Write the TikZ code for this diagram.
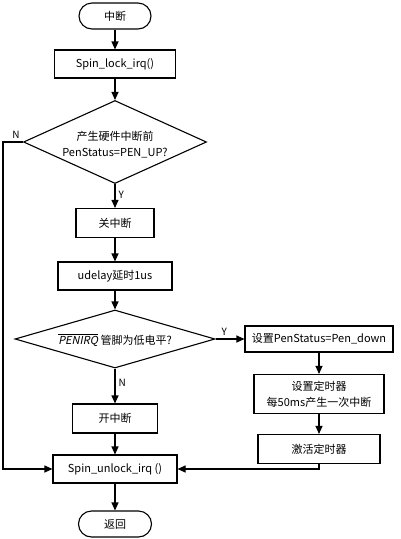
\documentclass[tikz,border=0pt]{standalone}
\usepackage{fontspec}
\setmainfont{Noto Sans CJK SC}
\newfontfamily\slfont{Noto Sans CJK SC}[FakeSlant=0.2]
\usetikzlibrary{arrows.meta,shapes.geometric}
\begin{document}
\begin{tikzpicture}[x=1pt,y=-1pt,
  every node/.style={font=\fontsize{11}{14}\selectfont},
  proc/.style={draw,line width=1.1pt,rectangle,inner sep=0pt,align=center},
  term/.style={draw,line width=1.1pt,rectangle,rounded corners=13pt,inner sep=0pt,minimum width=72pt,minimum height=26pt},
  dia/.style={draw,line width=1.1pt,diamond,inner sep=0pt},
  lbl/.style={inner sep=0pt,font=\fontsize{10}{12}\selectfont},
  arr/.style={line width=1.1pt,-{Triangle[length=8pt,width=7pt]}}]
\useasboundingbox (0,0) rectangle (400,539);
\node[term] (start) at (115,16) {中断};
\node[proc,minimum width=121pt,minimum height=28pt] (lock) at (115,64) {Spin\_lock\_irq()};
\node[dia,minimum width=183pt,minimum height=83pt] (d1) at (115,142) {};
\node[align=center,inner sep=0pt,font=\fontsize{11}{16}\selectfont] (d1t) at (115,145) {产生硬件中断前\\PenStatus=PEN\_UP?};
\node[proc,minimum width=78pt,minimum height=29pt] (guan) at (115,223) {关中断};
\node[proc,minimum width=114pt,minimum height=28pt] (udelay) at (115,276) {udelay延时1us};
\node[dia,minimum width=200pt,minimum height=58pt] (d2) at (115,339) {};
\node[inner sep=0pt] (d2t) at (115,340) {$\overline{\hbox{\slfont PENIRQ}}$ 管脚为低电平?};
\node[proc,minimum width=148pt,minimum height=26pt] (set1) at (319,339) {设置PenStatus=Pen\_down};
\node[proc,minimum width=130pt,minimum height=39pt,font=\fontsize{11}{16}\selectfont] (set2) at (319,394) {设置定时器\\每50ms产生一次中断};
\node[proc,minimum width=122pt,minimum height=29pt] (act) at (319,449) {激活定时器};
\node[proc,minimum width=85pt,minimum height=29pt] (kai) at (115,418.5) {开中断};
\node[proc,minimum width=124pt,minimum height=28pt] (unlock) at (115,469) {Spin\_unlock\_irq ()};
\node[term,minimum width=73pt] (ret) at (115,524) {返回};
\coordinate (nl) at (3,142);
\draw[arr] (start) -- (lock);
\draw[arr] (lock) -- (d1.north);
\draw[arr] (d1.south) -- node[lbl,right,pos=0.45,xshift=3pt]{Y} (guan);
\draw[arr] (guan) -- (udelay);
\draw[arr] (udelay) -- (d2.north);
\draw[arr] (d2.east) -- node[lbl,above,yshift=3pt,pos=0.3]{Y} (set1);
\draw[arr] (d2.south) -- node[lbl,right,pos=0.4,xshift=3pt]{N} (kai);
\draw[arr] (kai) -- (unlock);
\draw[arr] (unlock) -- (ret);
\draw[arr] (set1) -- (set2);
\draw[arr] (set2) -- (act);
\draw[arr] (act.south) |- (unlock.east);
\draw[arr] (d1.west) -- node[lbl,above,pos=0.35,yshift=3pt]{N} (nl) |- (unlock.west);
\end{tikzpicture}
\end{document}
